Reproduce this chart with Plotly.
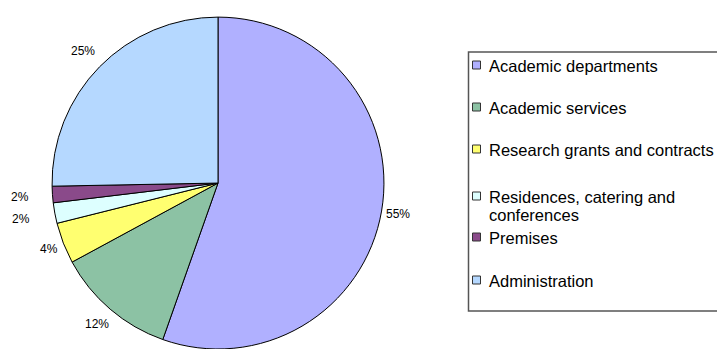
import math
import plotly.graph_objects as go

categories = ["Academic departments", "Academic services", "Research grants and contracts",
              "Residences, catering and conferences", "Premises", "Administration"]
legend_lines = [["Academic departments"], ["Academic services"], ["Research grants and contracts"],
                ["Residences, catering and", "conferences"], ["Premises"], ["Administration"]]
values = [55.4, 11.7, 4.0, 2.0, 1.6, 25.3]
colors = ["#B0B0FF", "#8CC2A4", "#FFFF70", "#DDFFFF", "#8A4A8A", "#B5D8FF"]

# style: extra gap between pie edge and each percentage label (px)
label_gap = [6, 9, 7, 27, 26, 12]

W, H = 717, 349
FONT = "Liberation Sans, Arial, sans-serif"
dom_x = [51 / W, 385 / W]
dom_y = [0.0, 0.951]

fig = go.Figure()
fig.add_trace(go.Pie(
    labels=categories, values=values, sort=False, direction="clockwise", rotation=0,
    marker=dict(colors=colors, line=dict(color="#000000", width=1)),
    textinfo="none", showlegend=False, hoverinfo="label+percent",
    domain=dict(x=dom_x, y=dom_y),
))

# percentage labels placed outside the slices, derived from the values
cx = (dom_x[0] + dom_x[1]) / 2 * W
cy = (1 - (dom_y[0] + dom_y[1]) / 2) * H
R = min((dom_x[1] - dom_x[0]) * W, (dom_y[1] - dom_y[0]) * H) / 2
total = sum(values)
annotations = []
cum = 0.0
for v, g in zip(values, label_gap):
    mid = (cum + v / 2) / total * 2 * math.pi
    cum += v
    sx, sy = math.sin(mid), -math.cos(mid)
    txt = f"{round(v / total * 100)}%"
    w = 6 * len(txt) + 1
    ext = abs(sx) * w / 2 + abs(sy) * 6
    d = R + g + ext
    px, py = cx + sx * d, cy + sy * d
    annotations.append(dict(xref="paper", yref="paper", x=px / W, y=1 - py / H,
                            xanchor="center", yanchor="middle", showarrow=False, text=txt,
                            font=dict(family=FONT, size=12, color="#000000")))

shapes = []
# legend box
shapes.append(dict(type="rect", xref="paper", yref="paper",
                   x0=468.5 / W, x1=722 / W, y0=1 - 311 / H, y1=1 - 52 / H,
                   line=dict(color="#555555", width=1.5), fillcolor="rgba(0,0,0,0)"))
item_y = [66, 108, 150, 197, 238, 281]
line_step = 18
for lines, col, yy in zip(legend_lines, colors, item_y):
    shapes.append(dict(type="rect", xref="paper", yref="paper",
                       x0=472.5 / W, x1=480.5 / W, y0=1 - (yy + 3) / H, y1=1 - (yy - 5) / H,
                       line=dict(color="#333333", width=1), fillcolor=col))
    for k, ln in enumerate(lines):
        annotations.append(dict(xref="paper", yref="paper", x=487 / W, y=1 - (yy + k * line_step) / H,
                                xanchor="left", yanchor="middle", align="left", showarrow=False,
                                text=ln, font=dict(family=FONT, size=16.5, color="#000000")))

fig.update_layout(
    width=W, height=H, margin=dict(l=0, r=0, t=0, b=0),
    paper_bgcolor="white", plot_bgcolor="white",
    shapes=shapes, annotations=annotations,
    font=dict(family=FONT),
)
fig.write_html("out.html")
